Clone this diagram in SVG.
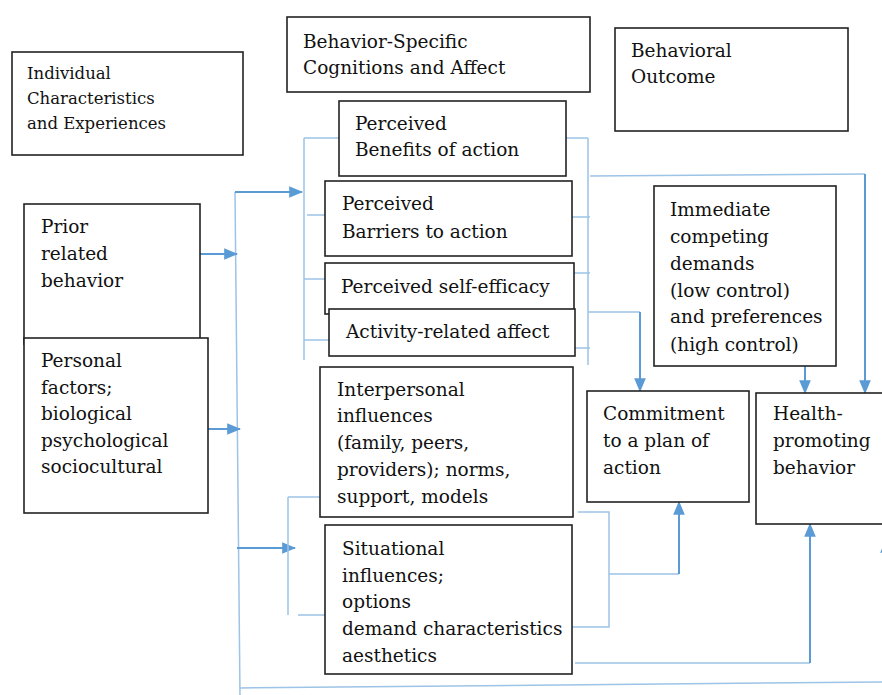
<svg xmlns="http://www.w3.org/2000/svg" width="882" height="695" viewBox="0 0 882 695">
<defs>
<marker id="ah" viewBox="0 0 12 10" refX="11" refY="5" markerWidth="14" markerHeight="12" markerUnits="userSpaceOnUse" orient="auto"><path d="M0,0 L12,5 L0,10 z" fill="#5b9bd5"/></marker>
<style>
.box{fill:#fff;stroke:#222;stroke-width:1.6}
.ln{fill:none;stroke:#9dc3e6;stroke-width:1.5}
.ar{fill:none;stroke:#5b9bd5;stroke-width:2;marker-end:url(#ah)}
</style>
</defs>
<rect width="882" height="695" fill="#fff"/>
<g id="connectors">
<polyline class="ln" points="304,138 304,360"/>
<line class="ln" x1="304" y1="138" x2="339" y2="138"/>
<line class="ln" x1="307" y1="215" x2="325" y2="215"/>
<line class="ln" x1="304" y1="279" x2="325" y2="279"/>
<line class="ln" x1="304" y1="340" x2="335" y2="340"/>
<polyline class="ln" points="588,138 588,365"/>
<line class="ln" x1="566" y1="138" x2="588" y2="138"/>
<line class="ln" x1="572" y1="217" x2="590" y2="217"/>
<line class="ln" x1="574" y1="273" x2="590" y2="273"/>
<line class="ln" x1="575" y1="348" x2="590" y2="348"/>
<line class="ln" x1="235" y1="192" x2="240" y2="695"/>
<polyline class="ar" points="235,192 302,192"/>
<polyline class="ar" points="200,254 237,254"/>
<polyline class="ar" points="208,429 240,429"/>
<polyline class="ar" points="237,548 295,548"/>
<line class="ln" x1="240" y1="688" x2="882" y2="682"/>
<polyline class="ar" points="886,682 886,540"/>
<polyline class="ln" points="590,176 865,174"/>
<polyline class="ar" points="865,174 865,393"/>
<polyline class="ln" points="588,312 640,312"/>
<polyline class="ar" points="640,312 640,391"/>
<polyline class="ar" points="805,336 805,393"/>
<polyline class="ln" points="288,497 288,615"/>
<line class="ln" x1="288" y1="497" x2="325" y2="497"/>
<line class="ln" x1="298" y1="615" x2="328" y2="615"/>
<polyline class="ln" points="578,512 609,512 609,627 572,627"/>
<polyline class="ln" points="609,574 679,574"/>
<polyline class="ar" points="679,574 679,502"/>
<polyline class="ln" points="575,663 810,663"/>
<polyline class="ar" points="810,663 810,524"/>
</g>
<g font-family="'DejaVu Serif', 'Liberation Serif', serif" font-size="18.5" fill="#111">
<g id="n-individual"><rect class="box" x="12" y="52" width="231" height="103"/>
<text font-size="16.5" x="27" y="79">Individual</text><text font-size="16.5" x="27" y="104">Characteristics</text><text font-size="16.5" x="27" y="129">and Experiences</text></g>
<g id="n-bsca"><rect class="box" x="287" y="17" width="303" height="75"/>
<text x="303" y="48">Behavior-Specific</text><text x="303" y="74">Cognitions and Affect</text></g>
<g id="n-outcome"><rect class="box" x="615" y="28" width="233" height="103"/>
<text x="631" y="57">Behavioral</text><text x="631" y="83">Outcome</text></g>
<g id="n-benefits"><rect class="box" x="339" y="101" width="227" height="75"/>
<text x="355" y="130">Perceived</text><text x="355" y="156">Benefits of action</text></g>
<g id="n-barriers"><rect class="box" x="325" y="181" width="247" height="75"/>
<text x="342" y="210">Perceived</text><text x="342" y="238">Barriers to action</text></g>
<g id="n-selfeff"><rect class="box" x="325" y="263" width="249" height="51"/>
<text x="341" y="293">Perceived self-efficacy</text></g>
<g id="n-affect"><rect class="box" x="329" y="309" width="246" height="47"/>
<text x="346" y="338">Activity-related affect</text></g>
<g id="n-prior"><rect class="box" x="24" y="204" width="176" height="140"/>
<text x="41" y="233">Prior</text><text x="41" y="260">related</text><text x="41" y="287">behavior</text></g>
<g id="n-personal"><rect class="box" x="24" y="338" width="184" height="175"/>
<text x="41" y="367">Personal</text><text x="41" y="394">factors;</text><text x="41" y="420">biological</text><text x="41" y="447">psychological</text><text x="41" y="473">sociocultural</text></g>
<g id="n-interpersonal"><rect class="box" x="320" y="367" width="253" height="150"/>
<text x="337" y="396">Interpersonal</text><text x="337" y="422">influences</text><text x="337" y="449">(family, peers,</text><text x="337" y="476">providers); norms,</text><text x="337" y="503">support, models</text></g>
<g id="n-situational"><rect class="box" x="325" y="525" width="247" height="149"/>
<text x="342" y="555">Situational</text><text x="342" y="582">influences;</text><text x="342" y="608">options</text><text x="342" y="635">demand characteristics</text><text x="342" y="662">aesthetics</text></g>
<g id="n-immediate"><rect class="box" x="654" y="186" width="182" height="180"/>
<text x="670" y="216">Immediate</text><text x="670" y="243">competing</text><text x="670" y="270">demands</text><text x="670" y="297">(low control)</text><text x="670" y="323">and preferences</text><text x="670" y="351">(high control)</text></g>
<g id="n-commitment"><rect class="box" x="587" y="391" width="162" height="111"/>
<text x="603" y="420">Commitment</text><text x="603" y="447">to a plan of</text><text x="603" y="474">action</text></g>
<g id="n-health"><rect class="box" x="756" y="393" width="140" height="131"/>
<text x="773" y="420">Health-</text><text x="773" y="447">promoting</text><text x="773" y="474">behavior</text></g>
</g>
</svg>
